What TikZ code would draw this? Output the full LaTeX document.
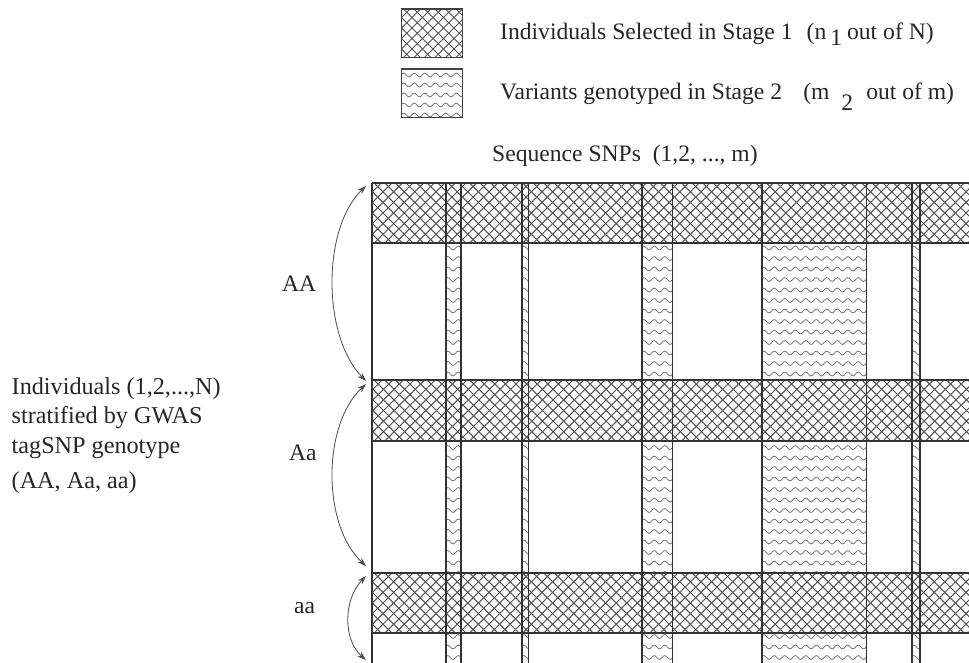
\documentclass[tikz,border=0pt]{standalone}
\usepackage{fontspec}
\setmainfont{Liberation Serif}
\usetikzlibrary{decorations.pathmorphing,arrows.meta}
\begin{document}
\begin{tikzpicture}[x=1pt,y=-1pt,
  txt/.style={font=\fontsize{23.6}{28}\selectfont, inner sep=0pt, anchor=base west, text=black!85},
  ltxt/.style={txt, font=\fontsize{24.2}{28}\selectfont},
  gridline/.style={draw=black!80, line width=1.2pt},
  hatchline/.style={draw=black!68, line width=1pt},
  waveline/.style={draw=black!55, line width=0.8pt, decorate, decoration={snake, amplitude=1.9pt, segment length=10.5pt}},
  legbox/.style={draw=black!75, line width=1.4pt, minimum width=61pt, minimum height=48.5pt, inner sep=0pt},
  curvearrow/.style={draw=black!70, line width=0.8pt, {Stealth[length=9pt,width=6pt,inset=3pt]}-{Stealth[length=9pt,width=6pt,inset=3pt]}}
]
\useasboundingbox (0,0) rectangle (969,662);
\clip (0,0) rectangle (969,662);
\fill[white] (0,0) rectangle (969,662);

% ---- legend ----
\begin{scope}
  \clip (401.5,9) rectangle (462.5,57.5);
  \foreach \k in {330,340.5,...,470}{
    \draw[hatchline] (\k,9) -- ++(60,60);
    \draw[hatchline] (\k,57.5) -- ++(60,-60);
  }
\end{scope}
\node[legbox] (leg1) at (432,33.25) {};
\begin{scope}
  \clip (401.5,69) rectangle (462.5,117.5);
  \foreach \y in {75,85,...,115}{
    \draw[waveline] (390,\y) -- (475,\y);
  }
\end{scope}
\node[legbox] (leg2) at (432,93.25) {};

\node[txt] (t1) at (500,39.5) {Individuals Selected in Stage 1\hspace{0.6em}(n\hspace{4pt}\raisebox{-6pt}{1}\hspace{5pt}out of N)};
\node[txt] (t2) at (500,99) {Variants genotyped in Stage 2\hspace{0.9em}(m\hspace{12pt}\raisebox{-11pt}{2}\hspace{13pt}out of m)};
\node[txt] (t3) at (492,161) {Sequence SNPs\hspace{0.5em}(1,2, ..., m)};

% ---- waves in the strips ----
\foreach \a/\b in {446/461, 522/528.5, 642/672.5, 762/866.5, 912/920}{
  \begin{scope}
    \clip (\a,183) rectangle (\b,670);
    \foreach \y in {248,258.5,...,670} \draw[waveline] (\a-12,\y) -- (\b+12,\y);
  \end{scope}
}

% ---- crosshatched bands ----
\foreach \t/\bt in {183/243, 380/441, 573/633}{
  \fill[white] (372,\t) rectangle (975,\bt);
  \begin{scope}
    \clip (372,\t) rectangle (975,\bt);
    \foreach \k in {300,310.6,...,980}{
      \draw[hatchline] (\k,\t) -- ++(70,70);
      \draw[hatchline] (\k,\bt) -- ++(70,-70);
    }
  \end{scope}
}

% ---- grid lines ----
\foreach \y in {183,243,380,441,573,633} \draw[gridline] (372,\y) -- (975,\y);
\foreach \x in {372,446,461,522,528.5,642,672.5,762,866.5,912,920} \draw[gridline] (\x,183) -- (\x,670);

% ---- left side ----
\node[ltxt] (l1) at (11.5,394) {Individuals (1,2,...,N)};
\node[ltxt] (l2) at (11.5,423.5) {stratified by GWAS};
\node[ltxt] (l3) at (11.5,453.5) {tagSNP genotype};
\node[ltxt] (l4) at (11.5,488) {(AA, Aa, aa)};

\node[txt] (gAA) at (282,291.5) {AA};
\node[txt] (gAa) at (289,460) {Aa};
\node[txt] (gaa) at (294,613) {aa};

\coordinate (a1) at (366,186);
\coordinate (a2) at (366,381);
\coordinate (b1) at (366,384);
\coordinate (b2) at (366,566);
\coordinate (c1) at (366,576);
\coordinate (c2) at (366,660);
\draw[curvearrow] (a1) .. controls (322,228) and (322,336) .. (a2);
\draw[curvearrow] (b1) .. controls (322,425) and (322,525) .. (b2);
\draw[curvearrow] (c1) .. controls (343,600) and (343,640) .. (c2);
\end{tikzpicture}
\end{document}
